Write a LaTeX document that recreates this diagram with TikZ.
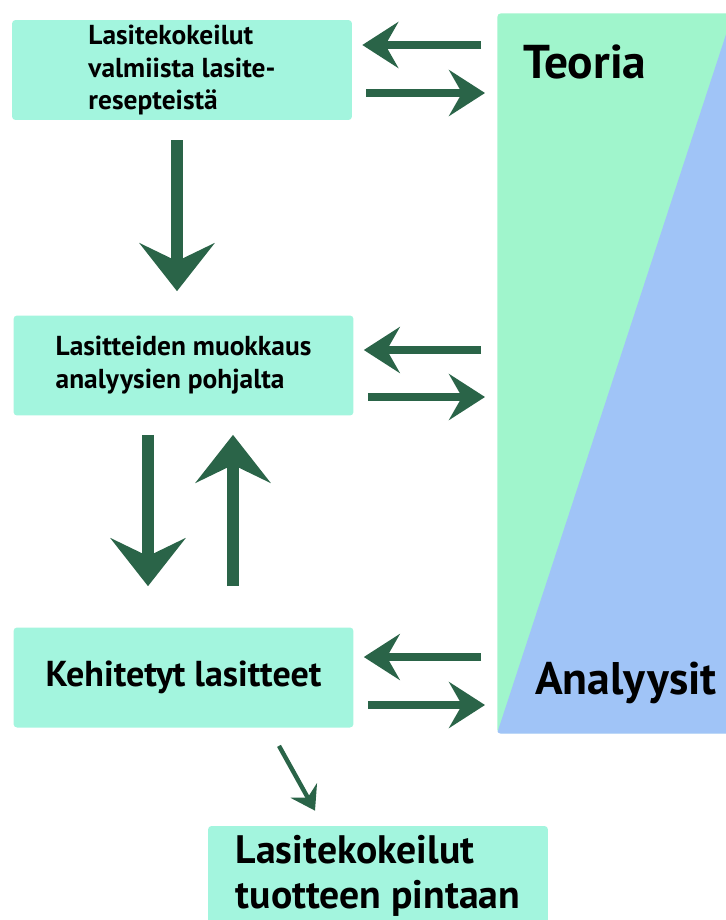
\documentclass[tikz,border=0pt]{standalone}
\usepackage{fontspec}
\setmainfont{PT Sans}
\usetikzlibrary{arrows.meta,positioning,calc}
\definecolor{boxmint}{RGB}{163,245,222}
\definecolor{theorygreen}{RGB}{160,245,204}
\definecolor{analysisblue}{RGB}{160,196,247}
\definecolor{arrowgreen}{RGB}{42,100,72}

\tikzset{
    box/.style={fill=boxmint, rounded corners=2pt, minimum width=6.8cm, minimum height=2cm, inner sep=0pt, align=left},
    harrow/.style={draw=arrowgreen, line width=4.5pt, -{Stealth[length=0.72cm, width=0.92cm, inset=0.26cm]}},
    varrow/.style={draw=arrowgreen, line width=7pt, -{Stealth[length=0.96cm, width=1.5cm, inset=0.36cm]}},
    sarrow/.style={draw=arrowgreen, line width=2.5pt, -{Stealth[length=0.46cm, width=0.6cm, inset=0.16cm]}}
}

\begin{document}
\begin{tikzpicture}[x=0.02cm, y=0.02cm]
        \useasboundingbox (0,0) rectangle (726,-920);

        % Theory / analysis panel
        \node[fill=theorygreen, rounded corners=2pt, minimum width=5.26cm, minimum height=14.4cm, inner sep=0pt, anchor=north west] (panel) at (497,-13) {};
        \begin{scope}
            \clip[rounded corners=2pt] (panel.north west) rectangle (panel.south east);
            \fill[analysisblue] (733,-13) -- (panel.north east) -- (panel.south east) -- (panel.south west) -- cycle;
        \end{scope}
        \node[font=\bfseries\fontsize{27pt}{30pt}\selectfont, anchor=west] (teoria) at (517,-62) {Teoria};
        \node[font=\bfseries\fontsize{26pt}{30pt}\selectfont, anchor=west] (analyysit) at (529,-683) {Analyysit};

        % Steps
        \node[box, font=\bfseries\fontsize{15.6pt}{18.5pt}\selectfont] (b1) at (182,-70) {Lasitekokeilut\\valmiista lasite-\\resepteistä};
        \node[box, font=\bfseries\fontsize{15.6pt}{18.7pt}\selectfont] (b2) at (183.5,-365.5) {Lasitteiden muokkaus\\analyysien pohjalta};
        \node[box, font=\bfseries\fontsize{20.5pt}{23pt}\selectfont] (b3) at (183.5,-677.5) {Kehitetyt lasitteet};
        \node[box, font=\bfseries\fontsize{22.6pt}{25.5pt}\selectfont] (b4) at (378,-876) {Lasitekokeilut\\tuotteen pintaan};

        % Arrows between steps and panel
        \foreach \b/\up/\down in {b1/25/-23, b2/15.5/-31.5, b3/20.5/-27.5} {
            \draw[harrow] ([shift={(-16,\up)}]panel.west |- \b.east) -- ([shift={(10,\up)}]\b.east);
            \draw[harrow] ([shift={(14,\down)}]\b.east) -- ([shift={(-12,\down)}]panel.west |- \b.east);
        }

        % Arrows between steps
        \draw[varrow] ([shift={(-5,-20)}]b1.south) -- ([shift={(-6.5,24)}]b2.north);
        \draw[varrow] ([shift={(-35.5,-19)}]b2.south) -- ([shift={(-35.5,41)}]b3.north);
        \draw[varrow] ([shift={(49.5,41)}]b3.north) -- ([shift={(49.5,-19)}]b2.south);
        \draw[sarrow] ([shift={(95.5,-18)}]b3.south) -- ([shift={(-63,15)}]b4.north);
\end{tikzpicture}
\end{document}
